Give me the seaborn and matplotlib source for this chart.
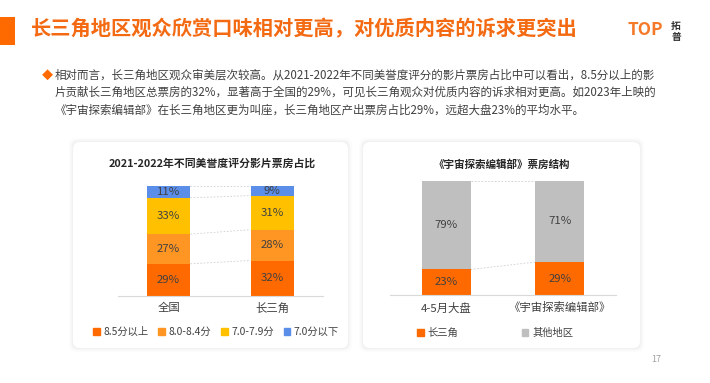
import matplotlib
matplotlib.use("Agg")
import matplotlib.pyplot as plt
from matplotlib.patches import FancyBboxPatch, Patch, Rectangle
import seaborn as sns

# left chart: share of box office by audience score, 2021-2022
regions = ["全国", "长三角"]
score_bins = ["8.5分以上", "8.0-8.4分", "7.0-7.9分", "7.0分以下"]
share_85_up = [29, 32]
share_80_84 = [27, 28]
share_70_79 = [33, 31]
share_below_70 = [11, 9]

# right chart: box office structure
films = ["4-5月大盘", "《宇宙探索编辑部》"]
structure_parts = ["长三角", "其他地区"]
share_yrd = [23, 29]
share_other = [79, 71]

title = "长三角地区观众欣赏口味相对更高，对优质内容的诉求更突出"
para = [
    "相对而言，长三角地区观众审美层次较高。从2021-2022年不同美誉度评分的影片票房占比中可以看出，8.5分以上的影",
    "片贡献长三角地区总票房的32%，显著高于全国的29%，可见长三角观众对优质内容的诉求相对更高。如2023年上映的",
    "《宇宙探索编辑部》在长三角地区更为叫座，长三角地区产出票房占比29%，远超大盘23%的平均水平。",
]
left_title = "2021-2022年不同美誉度评分影片票房占比"
right_title = "《宇宙探索编辑部》票房结构"

left_colors = ["#FF6A00", "#FF9523", "#FFC000", "#5B8EE8"]
right_colors = ["#FF6A00", "#BFBFBF"]
ORANGE = "#F36A12"
DARK = "#404040"

sns.set_style("white")
plt.rcParams["font.family"] = ["Noto Sans CJK SC", "DejaVu Sans"]

W, H = 710, 383
fig = plt.figure(figsize=(7.1, 3.83), dpi=100)
fig.patch.set_facecolor("white")


def fx(x):
    return x / W


def fy(y):
    return 1 - y / H


# header
fig.add_artist(Rectangle((0, fy(45)), fx(15), (45 - 17) / H, transform=fig.transFigure,
                         color="#FF6A00", lw=0))
fig.text(fx(31), fy(29), title, fontsize=14.6, fontweight="bold", color=ORANGE,
         va="center", ha="left")
fig.text(fx(627), fy(30), "TOP", fontsize=12.5, fontweight="bold", color="#F47A2A",
         va="center", ha="left")
fig.text(fx(676), fy(26), "拓", fontsize=7, fontweight="bold", color="#333333", ha="center", va="center")
fig.text(fx(676), fy(37), "普", fontsize=7, fontweight="bold", color="#333333", ha="center", va="center")

# paragraph
fig.text(fx(42), fy(75), "◆", fontsize=8, color="#FF6A00", va="center", ha="left")
for i, line in enumerate(para):
    fig.text(fx(55), fy(75 + i * 17.5), line, fontsize=8.3, color=DARK, va="center", ha="left")

fig.text(fx(656), fy(360), "17", fontsize=6.5, color="#A0A0A0", ha="center", va="center")


# panel boxes with a soft shadow
def panel(x0, x1, y0, y1):
    for pad, a in [(0.04, 0.012), (0.025, 0.018), (0.012, 0.025)]:
        fig.add_artist(FancyBboxPatch((x0 / 100, (H - y1) / 100), (x1 - x0) / 100, (y1 - y0) / 100,
                                      boxstyle=f"round,pad={pad},rounding_size=0.07",
                                      transform=fig.dpi_scale_trans, fc="#000000", alpha=a,
                                      ec="none", zorder=-3))
    fig.add_artist(FancyBboxPatch((x0 / 100, (H - y1) / 100), (x1 - x0) / 100, (y1 - y0) / 100,
                                  boxstyle="round,pad=0,rounding_size=0.07",
                                  transform=fig.dpi_scale_trans, fc="white", ec="none", zorder=-2))


panel(73, 348, 142, 348)
panel(363, 640, 142, 348)


def style_axis(ax, xlim):
    ax.set_xlim(*xlim)
    ax.set_ylim(0, 100)
    ax.set_xlabel("")
    ax.set_ylabel("")
    ax.set_yticks([])
    sns.despine(ax=ax, left=True)
    ax.spines["bottom"].set_color("#D9D9D9")
    ax.spines["bottom"].set_linewidth(0.8)
    ax.tick_params(axis="x", length=0, pad=5, labelsize=8.2, labelcolor=DARK)
    ax.patch.set_alpha(0)


def stacked(ax, cats, series, colors, width):
    bottom = [0] * len(cats)
    levels = []
    for vals, col in zip(series, colors):
        sns.barplot(x=cats, y=vals, bottom=bottom, color=col, width=width,
                    errorbar=None, linewidth=0, saturation=1, ax=ax)
        ax.bar_label(ax.containers[-1], labels=[f"{v}%" for v in vals],
                     label_type="center", fontsize=8.2, color=DARK)
        bottom = [b + v for b, v in zip(bottom, vals)]
        levels.append(list(bottom))
    # dashed connectors between the two bars
    for lv in levels:
        ax.plot([width / 2, 1 - width / 2], [lv[0], lv[1]], ls=(0, (2, 2)),
                color="#CFCFCF", lw=0.6, zorder=0)


# left chart
axl = fig.add_axes([fx(118), fy(295.7), (323 - 118) / W, 110 / H])
stacked(axl, regions, [share_85_up, share_80_84, share_70_79, share_below_70], left_colors, 0.42)
style_axis(axl, (-0.487, 1.487))
fig.text(fx(212), fy(163), left_title, fontsize=7.8, fontweight="bold", color="#262626",
         ha="center", va="center")
fig.legend([Patch(color=c) for c in left_colors], score_bins, loc="center",
           bbox_to_anchor=(fx(216), fy(332)), ncol=4, frameon=False, fontsize=7.4,
           handlelength=0.65, handleheight=0.65, handletextpad=0.35, columnspacing=0.95,
           labelcolor=DARK)

# right chart: both bars drawn to the full height as in the source
tot = [a + b for a, b in zip(share_yrd, share_other)]
yrd_h = [a / t * 100 for a, t in zip(share_yrd, tot)]
oth_h = [b / t * 100 for b, t in zip(share_other, tot)]
axr = fig.add_axes([fx(390), fy(295.3), (616 - 390) / W, 114.6 / H])
bottom = [0, 0]
lv_list = []
for h, vals, col in [(yrd_h, share_yrd, right_colors[0]), (oth_h, share_other, right_colors[1])]:
    sns.barplot(x=films, y=h, bottom=bottom, color=col, width=0.43, errorbar=None,
                linewidth=0, saturation=1, ax=axr)
    axr.bar_label(axr.containers[-1], labels=[f"{v}%" for v in vals],
                  label_type="center", fontsize=8.2, color=DARK)
    bottom = [b + v for b, v in zip(bottom, h)]
    lv_list.append(list(bottom))
for lv in lv_list:
    axr.plot([0.215, 1 - 0.215], lv, ls=(0, (2, 2)), color="#CFCFCF", lw=0.6, zorder=0)
style_axis(axr, (-0.494, 1.494))
fig.text(fx(502), fy(164), right_title, fontsize=7.6, fontweight="bold", color="#262626",
         ha="center", va="center")
fig.legend([Patch(color=c) for c in right_colors], structure_parts, loc="center",
           bbox_to_anchor=(fx(495), fy(333)), ncol=2, frameon=False, fontsize=7.4,
           handlelength=0.65, handleheight=0.65, handletextpad=0.35, columnspacing=6.2,
           labelcolor=DARK)

fig.savefig("out.png", dpi=100)
